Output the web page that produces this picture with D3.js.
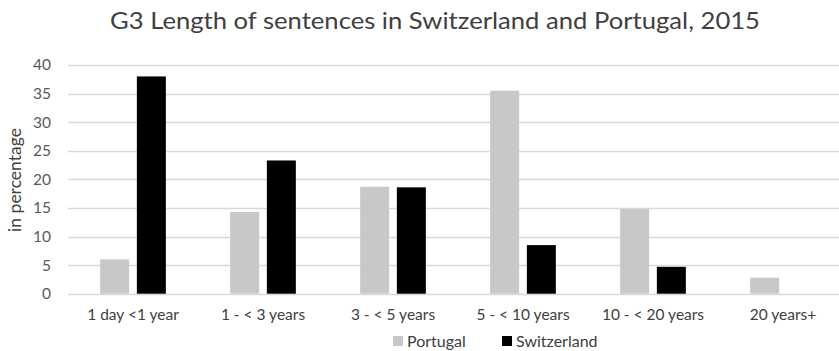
<!DOCTYPE html>
<html>
<head>
<meta charset="utf-8">
<script src="https://cdn.jsdelivr.net/npm/d3@7"></script>
<style>
  html, body { margin: 0; padding: 0; background: #fff; }
  svg { display: block; font-family: Lato, "Open Sans", sans-serif; }
</style>
</head>
<body>
<svg id="chart" width="839" height="351"></svg>
<script>
const categories = ["1 day <1 year", "1 - < 3 years", "3 - < 5 years", "5 - < 10 years", "10 - < 20 years", "20 years+"];
const seriesNames = ["Portugal", "Switzerland"];
const portugal = [6.0, 14.3, 18.7, 35.5, 14.8, 2.8];
const switzerland = [38.0, 23.3, 18.6, 8.5, 4.7, null];
const yTicks = [0, 5, 10, 15, 20, 25, 30, 35, 40];
const colors = { Portugal: "#c8c8c8", Switzerland: "#000000" };

const svg = d3.select("#chart");
const plot = { left: 68, right: 848, top: 65, bottom: 293.7 };

const x0 = d3.scaleBand().domain(categories).range([plot.left, plot.right]).padding(0);
const x1 = d3.scaleBand().domain(seriesNames).range([0, x0.bandwidth()])
  .paddingInner(0.21).paddingOuter(0.876);
const y = d3.scaleLinear().domain([0, 40]).range([plot.bottom, plot.top]);

// horizontal gridlines
svg.append("g")
  .selectAll("line").data(yTicks).join("line")
  .attr("x1", plot.left).attr("x2", plot.right)
  .attr("y1", d => Math.round(y(d)) + 0.5).attr("y2", d => Math.round(y(d)) + 0.5)
  .attr("stroke", "#d9d9d9").attr("stroke-width", 1.3);

// y axis labels
const yAxis = d3.axisLeft(y).tickValues(yTicks).tickSize(0).tickPadding(0);
svg.append("g").attr("transform", `translate(51,0)`).call(yAxis)
  .call(g => g.select(".domain").remove())
  .call(g => g.selectAll("text").attr("fill", "#595959").attr("font-size", 15.5)
    .attr("font-family", "Lato, 'Open Sans', sans-serif"));

// bars
const rows = categories.map((c, i) => ({ cat: c, values: [
  { key: "Portugal", v: portugal[i] },
  { key: "Switzerland", v: switzerland[i] }
].filter(d => d.v != null) }));

svg.append("g").selectAll("g").data(rows).join("g")
  .attr("transform", d => `translate(${x0(d.cat)},0)`)
  .selectAll("rect").data(d => d.values).join("rect")
  .attr("x", d => x1(d.key))
  .attr("width", x1.bandwidth())
  .attr("y", d => y(d.v))
  .attr("height", d => y(0) - y(d.v))
  .attr("fill", d => colors[d.key]);

// x axis labels
const xAxis = d3.axisBottom(x0).tickSize(0).tickPadding(0);
svg.append("g").attr("transform", `translate(0,${plot.bottom + 15})`).call(xAxis)
  .call(g => g.select(".domain").remove())
  .call(g => g.selectAll("text").attr("fill", "#404040").attr("font-size", 15.5)
    .attr("font-family", "Lato, 'Open Sans', sans-serif"));

// y axis title
svg.append("text")
  .attr("transform", "translate(21,180) rotate(-90)")
  .attr("text-anchor", "middle")
  .attr("fill", "#404040").attr("font-size", 17.5)
  .text("in percentage");

// title
svg.append("text")
  .attr("x", 110).attr("y", 29)
  .attr("textLength", 650).attr("lengthAdjust", "spacingAndGlyphs")
  .attr("fill", "#404040").attr("font-size", 23)
  .text("G3 Length of sentences in Switzerland and Portugal, 2015");

// legend
const legendItems = [
  { key: "Portugal", x: 393 },
  { key: "Switzerland", x: 502 }
];
const lg = svg.append("g").selectAll("g").data(legendItems).join("g")
  .attr("transform", d => `translate(${d.x},336)`);
lg.append("rect").attr("width", 10).attr("height", 10).attr("fill", d => colors[d.key]);
lg.append("text").attr("x", 14).attr("y", 10.5)
  .attr("fill", "#404040").attr("font-size", 16).text(d => d.key);
</script>
</body>
</html>
